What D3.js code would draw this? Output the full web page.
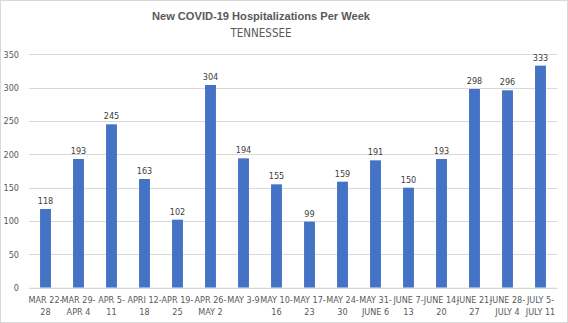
<!DOCTYPE html>
<html><head><meta charset="utf-8">
<script src="https://cdn.jsdelivr.net/npm/d3@7"></script>
<style>body{margin:0;background:#fff}svg{display:block}</style>
</head><body>
<script>
const categories = [["MAR 22-","28"],["MAR 29-","APR 4"],["APR 5-","11"],["APRI 12-","18"],["APR 19-","25"],["APR 26-","MAY 2"],["MAY 3-9",""],["MAY 10-","16"],["MAY 17-","23"],["MAY 24-","30"],["MAY 31-","JUNE 6"],["JUNE 7-","13"],["JUNE 14-","20"],["JUNE 21-","27"],["JUNE 28-","JULY 4"],["JULY 5-","JULY 11"]];
const values = [118,193,245,163,102,304,194,155,99,159,191,150,193,298,296,333];
const yTicks = [0,50,100,150,200,250,300,350];
const title = "New COVID-19 Hospitalizations Per Week";
const subtitle = "TENNESSEE";

const W=568,H=323;
const svg=d3.select("body").append("svg").attr("width",W).attr("height",H);
svg.append("rect").attr("x",0.5).attr("y",0.5).attr("width",W-1).attr("height",H-1).attr("fill","#fff").attr("stroke","#d9d9d9");
const font="'Liberation Sans', Arial, sans-serif";
const nfont="'Liberation Sans Narrow', 'DejaVu Sans Condensed', sans-serif";
const pL=29,pR=557,pT=54.3,pB=287.7;
const x=d3.scaleBand().domain(d3.range(values.length)).range([pL,pR]).paddingInner(0.67).paddingOuter(0.335);
const y=d3.scaleLinear().domain([0,350]).range([pB,pT]);

svg.append("g").selectAll("line").data(yTicks).join("line")
 .attr("x1",pL).attr("x2",pR).attr("y1",d=>Math.round(y(d))+0.5).attr("y2",d=>Math.round(y(d))+0.5)
 .attr("stroke","#d9d9d9").attr("stroke-width",1);

const yAxis=svg.append("g").attr("transform",`translate(${pL},0)`).call(d3.axisLeft(y).tickValues(yTicks).tickSize(0).tickPadding(10));
yAxis.select(".domain").remove();
yAxis.selectAll("text").attr("font-family",nfont).attr("font-size",9).attr("fill","#595959");

svg.append("g").selectAll("rect").data(values).join("rect")
 .attr("x",(d,i)=>x(i)).attr("width",x.bandwidth()).attr("y",d=>y(d)).attr("height",d=>pB-y(d)).attr("fill","#4472C4");

svg.append("g").selectAll("text").data(values).join("text")
 .attr("x",(d,i)=>x(i)+x.bandwidth()/2).attr("y",d=>y(d)-5).attr("text-anchor","middle")
 .attr("font-family",nfont).attr("font-size",9).attr("fill","#404040").text(d=>d);

const xAxis=svg.append("g").attr("transform",`translate(0,${pB})`).call(d3.axisBottom(x).tickSize(0).tickFormat(""));
xAxis.select(".domain").attr("stroke","#d9d9d9");
const lab=svg.append("g").selectAll("text").data(categories).join("text")
 .attr("text-anchor","middle").attr("font-family",nfont).attr("font-size",9).attr("fill","#595959");
lab.each(function(d,i){
  const t=d3.select(this);
  const cx=x(i)+x.bandwidth()/2;
  d.forEach((s,k)=>{ if(s) t.append("tspan").attr("x",cx).attr("y",303+k*11.7).text(s); });
});

svg.append("text").attr("x",261).attr("y",20).attr("text-anchor","middle").attr("font-family",font)
 .attr("font-size",11.1).attr("font-weight","bold").attr("fill","#595959").text(title);
svg.append("text").attr("x",261).attr("y",37).attr("text-anchor","middle").attr("font-family",nfont)
 .attr("font-size",11.5).attr("fill","#595959").text(subtitle);
</script>
</body></html>
